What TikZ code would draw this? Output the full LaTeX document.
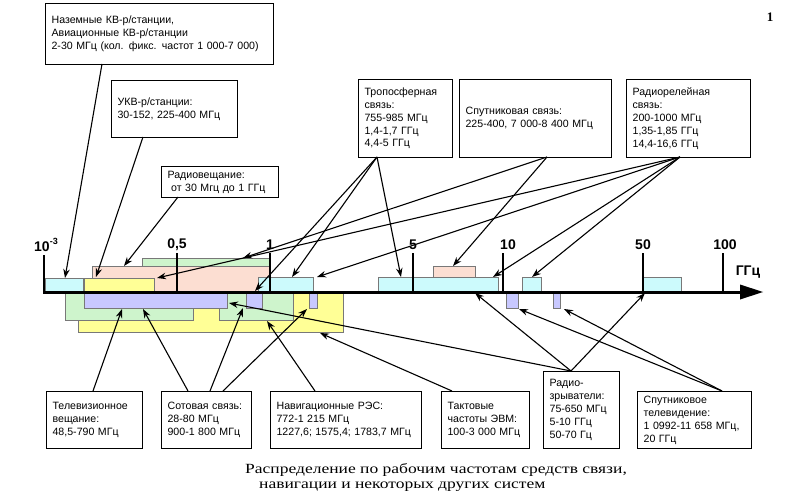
\documentclass[tikz,border=0pt]{standalone}
\usepackage{fontspec}
\setmainfont{Liberation Sans}
\newfontfamily\capfont[FakeStretch=1.25]{Liberation Serif}
\newfontfamily\pgfont{Liberation Serif}
\usetikzlibrary{arrows.meta}
\definecolor{bcyan}{RGB}{204,250,252}
\definecolor{byellow}{RGB}{255,255,150}
\definecolor{bpink}{RGB}{252,222,210}
\definecolor{bgreen}{RGB}{206,244,204}
\definecolor{blav}{RGB}{200,200,255}
\definecolor{bedge}{RGB}{120,120,120}
\begin{document}
\begin{tikzpicture}[x=1pt,y=-1pt,
  box/.style={draw=black, line width=1.2pt, fill=white, font=\fontsize{10.6}{13}\selectfont,
    align=left, anchor=north west, inner xsep=6pt, inner ysep=0pt},
  band/.style={draw=bedge, line width=0.6pt},
  arr/.style={-{Stealth[length=9pt,width=6.5pt]}, line width=1.1pt},
  tickl/.style={line width=2.2pt},
  axlab/.style={font=\fontsize{14}{14}\bfseries\selectfont, inner sep=0pt},
  captext/.style={anchor=west, inner sep=0pt, font=\capfont\fontsize{14}{14}\selectfont}]
\useasboundingbox (0,0) rectangle (800,503);

% ---------- bands below axis ----------
\draw[band, fill=byellow] (78,293) rectangle (343,332);
\draw[band, fill=bgreen] (65,293) rectangle (193,320);
\draw[band, fill=bgreen] (219,293) rectangle (293,320);
\draw[band, fill=blav] (84,293) rectangle (227,308);
\draw[band, fill=blav] (246,293) rectangle (262,308);
\draw[band, fill=blav] (309,293) rectangle (317,308);
\draw[band, fill=blav] (506,293) rectangle (518,308);
\draw[band, fill=blav] (553,293) rectangle (560,308);

% ---------- bands above axis ----------
\draw[band, fill=bgreen] (142,258) rectangle (269,292);
\draw[band, fill=bpink] (92,266) rectangle (269,292);
\draw[band, fill=byellow] (84,278) rectangle (154,292);
\draw[band, fill=bcyan] (45,278) rectangle (83,292);
\draw[band, fill=bcyan] (258,277) rectangle (313,292);
\draw[band, fill=bcyan] (378,277) rectangle (498,292);
\draw[band, fill=bpink] (433,266) rectangle (475,277);
\draw[band, fill=bcyan] (522,277) rectangle (541,292);
\draw[band, fill=bcyan] (643,277) rectangle (681,292);

% ---------- axis ----------
\draw[tickl] (44,255) -- (44,292);
\draw[tickl] (177,253) -- (177,292);
\draw[tickl] (270,253) -- (270,292);
\draw[tickl] (413,253) -- (413,292);
\draw[tickl] (503,253) -- (503,292);
\draw[tickl] (643,253) -- (643,292);
\draw[tickl] (723,253) -- (723,292);
\draw[line width=3pt] (43,292) -- (745,292);
\fill (740,284.5) -- (763,292) -- (740,299.5) -- cycle;
\node[axlab] (l1) at (46,245) {10\raisebox{0.45em}{\fontsize{9}{9}\selectfont -3}};
\node[axlab] (l2) at (177,245) {0,5};
\node[axlab] (l3) at (270,245) {1};
\node[axlab] (l4) at (413,245) {5};
\node[axlab] (l5) at (508,245) {10};
\node[axlab] (l6) at (643,245) {50};
\node[axlab] (l7) at (725,245) {100};
\node[axlab] (lu) at (748,272) {ГГц};

% ---------- top boxes ----------
\node[box, text width=216pt, minimum height=61pt] (nazem) at (45,3)
  {Наземные КВ-р/станции,\\Авиационные КВ-р/станции\\2-30 МГц (кол. фикс. частот 1 000-7 000)};
\node[box, text width=114pt, minimum height=57pt] (ukv) at (111,80)
  {УКВ-р/станции:\\30-152, 225-400 МГц};
\node[box, text width=105pt, minimum height=31pt] (radv) at (161,166)
  {Радиовещание:\\\ от 30 Мгц до 1 ГГц};
\node[box, text width=82pt, minimum height=78pt, font=\fontsize{10.6}{12.8}\selectfont] (tropo) at (358,79)
  {Тропосферная\\связь:\\755-985 МГц\\1,4-1,7 ГГц\\4,4-5 ГГц};
\node[box, text width=140pt, minimum height=78pt] (sput) at (459,79)
  {Спутниковая связь:\\225-400, 7 000-8 400 МГц};
\node[box, text width=112pt, minimum height=78pt, font=\fontsize{10.6}{12.8}\selectfont] (rrl) at (626,79)
  {Радиорелейная\\связь:\\200-1000 МГц\\1,35-1,85 ГГц\\14,4-16,6 ГГц};

% ---------- bottom boxes ----------
\node[box, text width=84pt, minimum height=57pt] (tv) at (46,391)
  {Телевизионное\\вещание:\\48,5-790 МГц};
\node[box, text width=78pt, minimum height=57pt] (sot) at (161,391)
  {Сотовая связь:\\28-80 МГц\\900-1 800 МГц};
\node[box, text width=139pt, minimum height=57pt] (nav) at (270,391)
  {Навигационные РЭС:\\772-1 215 МГц\\1227,6; 1575,4; 1783,7 МГц};
\node[box, text width=76pt, minimum height=57pt] (takt) at (441,391)
  {Тактовые\\частоты ЭВМ:\\100-3 000 МГц};
\node[box, text width=64pt, minimum height=77pt] (vzr) at (543,371)
  {Радио-\\зрыватели:\\75-650 МГц\\5-10 ГГц\\50-70 Гц};
\node[box, text width=102pt, minimum height=57pt] (stv) at (637,391)
  {Спутниковое\\телевидение:\\1 0992-11 658 МГц,\\20 ГГц};

% ---------- caption & page number ----------
\node[captext] (cap1) at (245,470) {Распределение по рабочим частотам средств связи,};
\node[captext] (cap2) at (259,487) {навигации и некоторых других систем};
\node[inner sep=0pt, font=\pgfont\fontsize{13}{13}\bfseries\selectfont] (pg) at (770,17) {1};

% ---------- connector start points ----------
\coordinate (sNz) at (102,64);
\coordinate (sUkv) at (143,137);
\coordinate (sRv) at (178,197);
\coordinate (sTr) at (377,157);
\coordinate (sSp) at (547,157);
\coordinate (sRr) at (680,157);
\coordinate (sTv) at (93,391);
\coordinate (sSo1) at (188,391);
\coordinate (sSo2) at (210,391);
\coordinate (sSo3) at (223,391);
\coordinate (sNv) at (315,391);
\coordinate (sTk) at (452,391);
\coordinate (sVz) at (571,371);
\coordinate (sSt) at (722,391);

% ---------- connector tips ----------
\coordinate (tNz) at (65,278);
\coordinate (tUkv) at (96,277);
\coordinate (tRv) at (124,266);
\coordinate (tTr1) at (255,291);
\coordinate (tTr2) at (292,277);
\coordinate (tTr3) at (401,277);
\coordinate (tSp1) at (243,258);
\coordinate (tSp2) at (453,266);
\coordinate (tRr1) at (157,278);
\coordinate (tRr2) at (317,277);
\coordinate (tRr3) at (493,277);
\coordinate (tRr4) at (532,277);
\coordinate (tTv) at (122,309);
\coordinate (tSo1) at (143,309);
\coordinate (tSo2) at (243,308);
\coordinate (tSo3) at (307,309);
\coordinate (tNv) at (267,321);
\coordinate (tTk) at (320,333);
\coordinate (tVz1) at (229,303);
\coordinate (tVz2) at (475,293);
\coordinate (tVz3) at (645,293);
\coordinate (tSt1) at (519,309);
\coordinate (tSt2) at (564,309);

\draw[arr] (sNz) -- (tNz);
\draw[arr] (sUkv) -- (tUkv);
\draw[arr] (sRv) -- (tRv);
\draw[arr] (sTr) -- (tTr1);
\draw[arr] (sTr) -- (tTr2);
\draw[arr] (sTr) -- (tTr3);
\draw[arr] (sSp) -- (tSp1);
\draw[arr] (sSp) -- (tSp2);
\draw[arr] (sRr) -- (tRr1);
\draw[arr] (sRr) -- (tRr2);
\draw[arr] (sRr) -- (tRr3);
\draw[arr] (sRr) -- (tRr4);
\draw[arr] (sTv) -- (tTv);
\draw[arr] (sSo1) -- (tSo1);
\draw[arr] (sSo2) -- (tSo2);
\draw[arr] (sSo3) -- (tSo3);
\draw[arr] (sNv) -- (tNv);
\draw[arr] (sTk) -- (tTk);
\draw[arr] (sVz) -- (tVz1);
\draw[arr] (sVz) -- (tVz2);
\draw[arr] (sVz) -- (tVz3);
\draw[arr] (sSt) -- (tSt1);
\draw[arr] (sSt) -- (tSt2);
\end{tikzpicture}
\end{document}
